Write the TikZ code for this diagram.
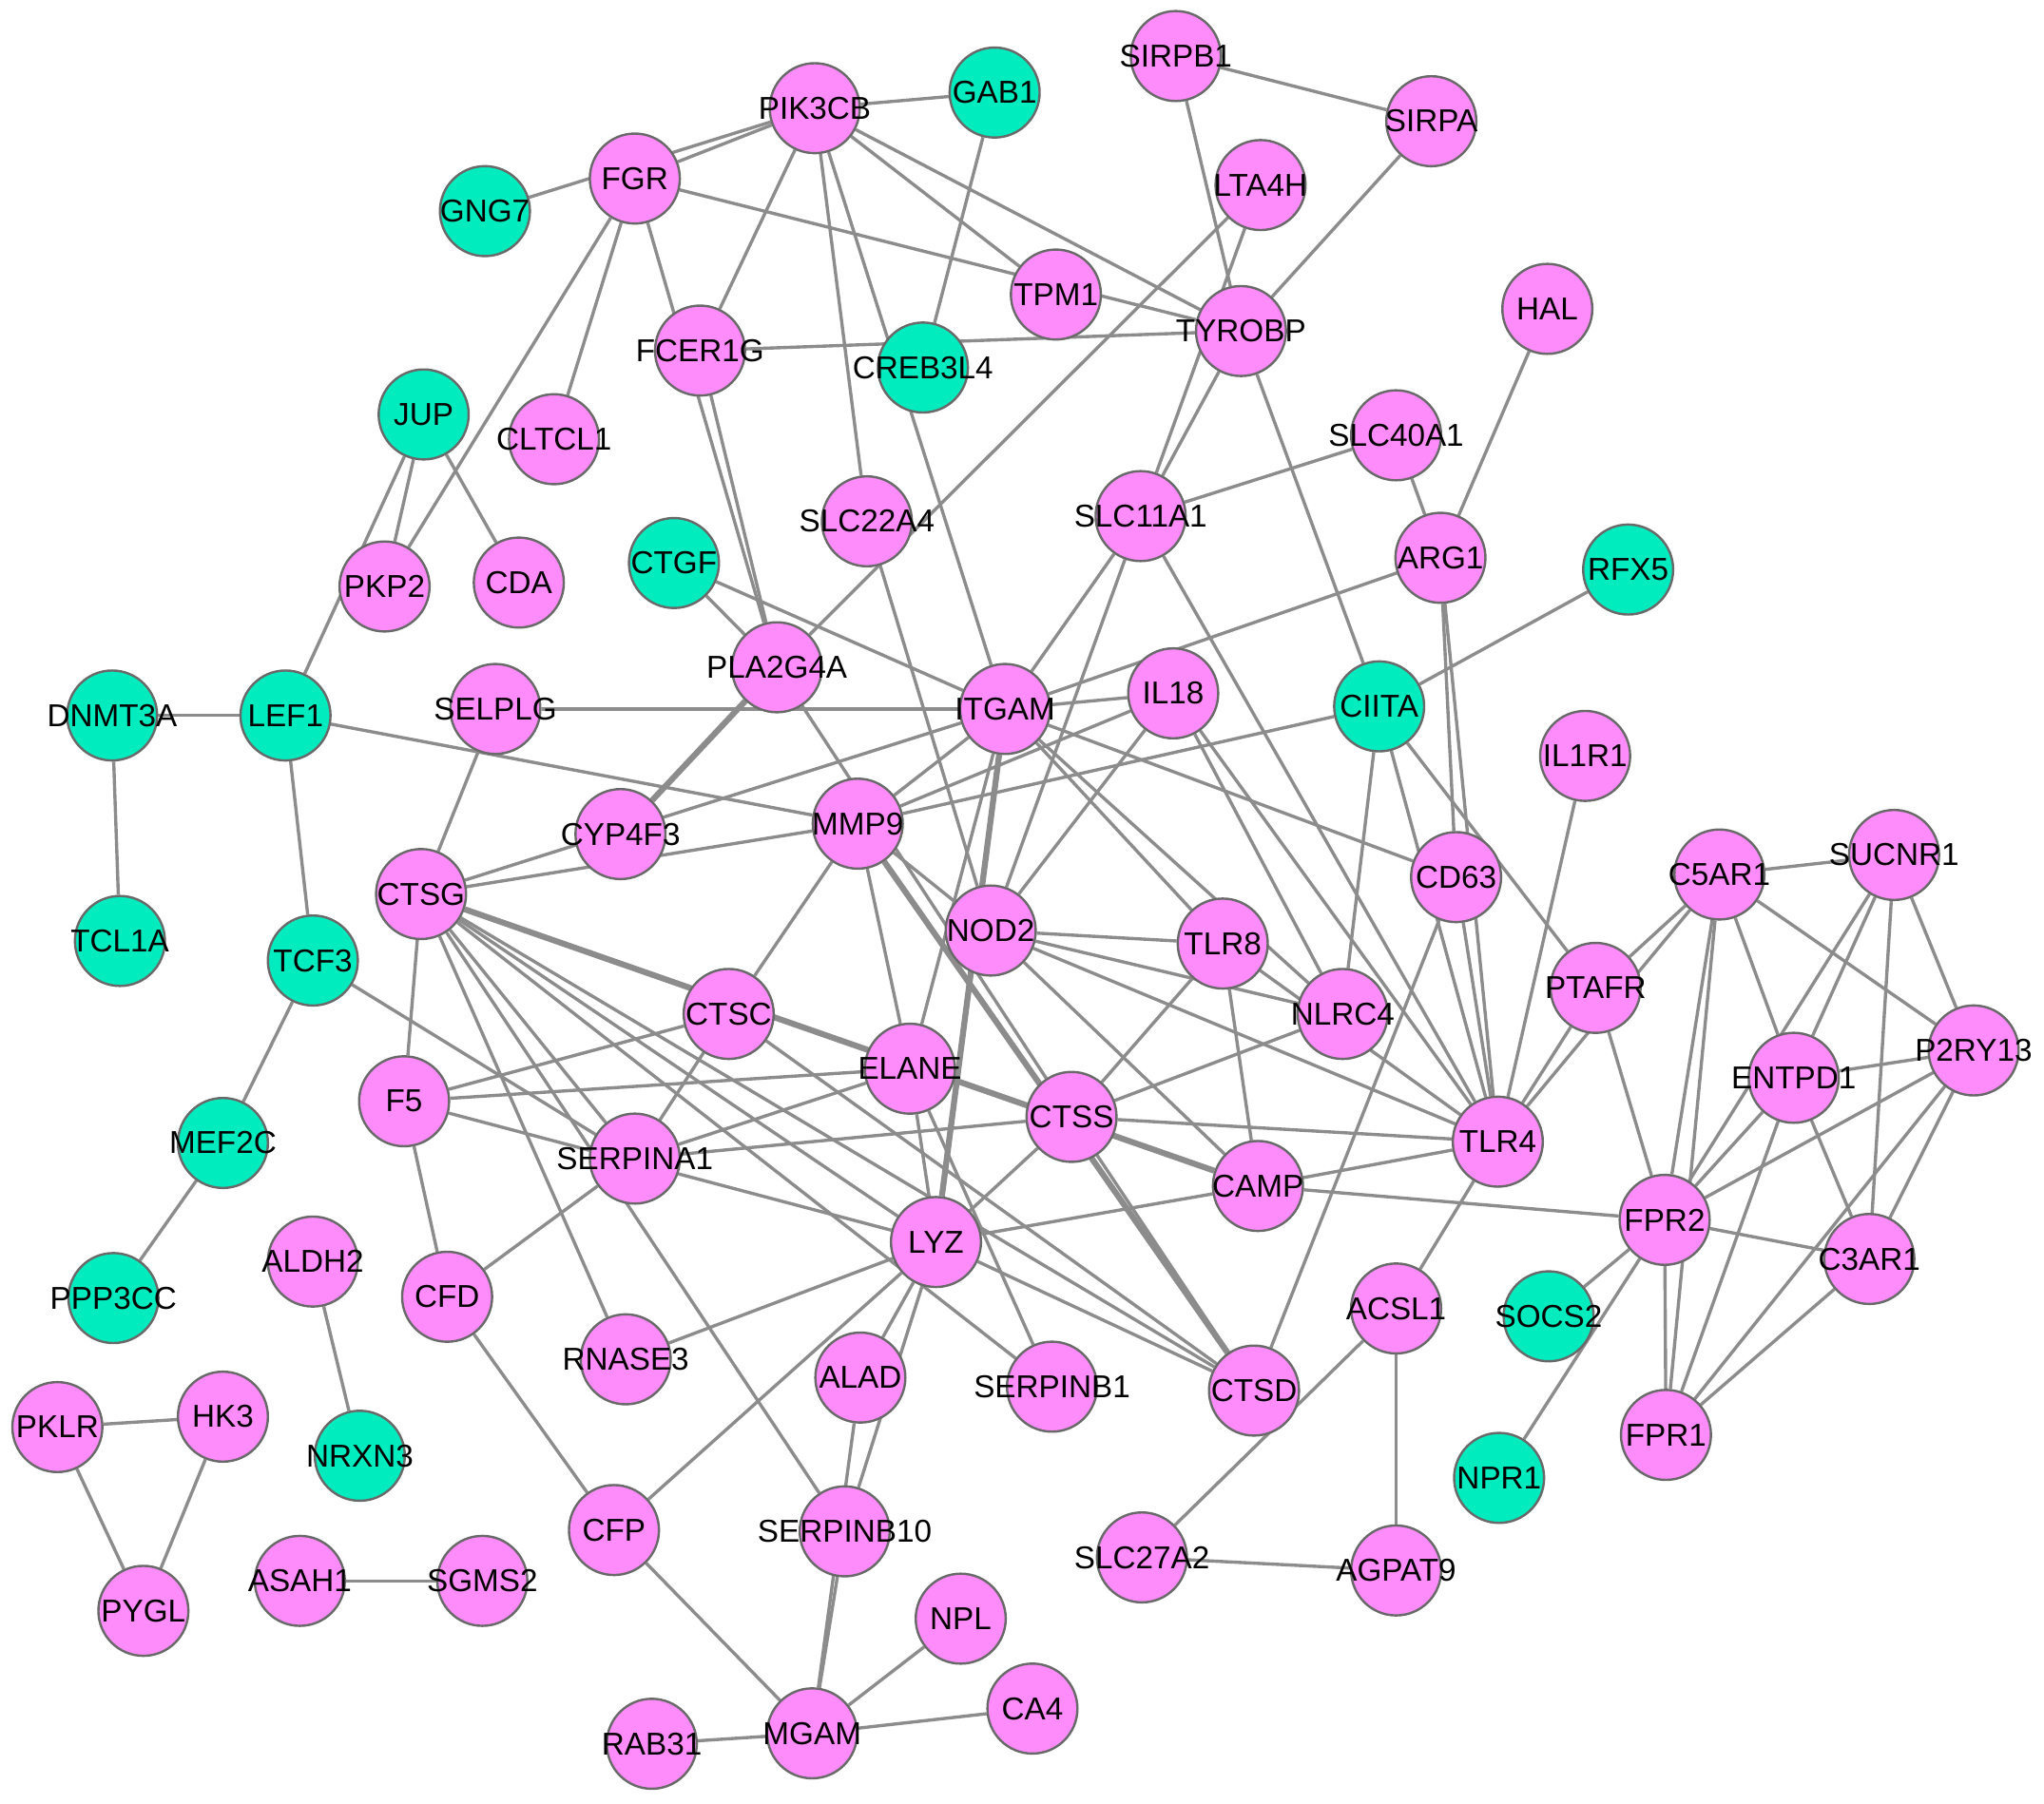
\documentclass[tikz,border=0pt]{standalone}
\usepackage{fontspec}
\setmainfont{Liberation Sans}
\usetikzlibrary{backgrounds}
\definecolor{pk}{RGB}{255,140,250}
\definecolor{tl}{RGB}{0,236,190}
\definecolor{eg}{RGB}{140,140,140}
\definecolor{bd}{RGB}{105,105,105}
\newcommand{\nlab}[1]{\makebox[0pt][c]{#1}}
\begin{document}
\begin{tikzpicture}[x=0.01cm,y=-0.01cm,
  gn/.style={circle,draw=bd,line width=0.5pt,minimum size=0.69cm,inner sep=0pt,font=\fontsize{6.9}{8}\selectfont},
  pn/.style={gn,fill=pk},
  tn/.style={gn,fill=tl},
  edge/.style={draw=eg,line width=0.7pt},
  dbl/.style={draw=eg,line width=1.3pt}]
\useasboundingbox (0,0) rectangle (1568,1384);
% nodes
\node[pn] (PIK3CB) at (625,83) {\nlab{PIK3CB}};
\node[tn] (GAB1) at (763,71) {\nlab{GAB1}};
\node[pn] (SIRPB1) at (902,43) {\nlab{SIRPB1}};
\node[pn] (SIRPA) at (1098,93) {\nlab{SIRPA}};
\node[pn] (FGR) at (487,137) {\nlab{FGR}};
\node[tn] (GNG7) at (372,162) {\nlab{GNG7}};
\node[pn] (LTA4H) at (967,142) {\nlab{LTA4H}};
\node[pn] (TPM1) at (810,226) {\nlab{TPM1}};
\node[pn] (TYROBP) at (952,254) {\nlab{TYROBP}};
\node[pn] (HAL) at (1187,237) {\nlab{HAL}};
\node[pn] (FCER1G) at (537,269) {\nlab{FCER1G}};
\node[tn] (CREB3L4) at (708,282) {\nlab{CREB3L4}};
\node[tn] (JUP) at (325,318) {\nlab{JUP}};
\node[pn] (CLTCL1) at (425,337) {\nlab{CLTCL1}};
\node[pn] (SLC40A1) at (1071,334) {\nlab{SLC40A1}};
\node[pn] (SLC22A4) at (665,400) {\nlab{SLC22A4}};
\node[pn] (SLC11A1) at (875,396) {\nlab{SLC11A1}};
\node[pn] (ARG1) at (1105,428) {\nlab{ARG1}};
\node[pn] (PKP2) at (295,450) {\nlab{PKP2}};
\node[pn] (CDA) at (398,447) {\nlab{CDA}};
\node[tn] (CTGF) at (517,432) {\nlab{CTGF}};
\node[tn] (RFX5) at (1249,437) {\nlab{RFX5}};
\node[pn] (PLA2G4A) at (596,512) {\nlab{PLA2G4A}};
\node[pn] (SELPLG) at (380,544) {\nlab{SELPLG}};
\node[tn] (DNMT3A) at (86,549) {\nlab{DNMT3A}};
\node[tn] (LEF1) at (219,549) {\nlab{LEF1}};
\node[pn] (ITGAM) at (771,544) {\nlab{ITGAM}};
\node[pn] (IL18) at (900,532) {\nlab{IL18}};
\node[tn] (CIITA) at (1058,542) {\nlab{CIITA}};
\node[pn] (IL1R1) at (1216,580) {\nlab{IL1R1}};
\node[pn] (CYP4F3) at (476,640) {\nlab{CYP4F3}};
\node[pn] (MMP9) at (658,632) {\nlab{MMP9}};
\node[pn] (CTSG) at (323,686) {\nlab{CTSG}};
\node[pn] (CD63) at (1117,673) {\nlab{CD63}};
\node[pn] (C5AR1) at (1319,671) {\nlab{C5AR1}};
\node[pn] (SUCNR1) at (1453,656) {\nlab{SUCNR1}};
\node[pn] (NOD2) at (760,714) {\nlab{NOD2}};
\node[pn] (TLR8) at (938,724) {\nlab{TLR8}};
\node[tn] (TCL1A) at (92,722) {\nlab{TCL1A}};
\node[tn] (TCF3) at (240,737) {\nlab{TCF3}};
\node[pn] (PTAFR) at (1224,758) {\nlab{PTAFR}};
\node[pn] (NLRC4) at (1030,778) {\nlab{NLRC4}};
\node[pn] (CTSC) at (559,778) {\nlab{CTSC}};
\node[pn] (P2RY13) at (1514,806) {\nlab{P2RY13}};
\node[pn] (ENTPD1) at (1376,827) {\nlab{ENTPD1}};
\node[pn] (ELANE) at (698,820) {\nlab{ELANE}};
\node[pn] (F5) at (310,845) {\nlab{F5}};
\node[pn] (CTSS) at (822,857) {\nlab{CTSS}};
\node[pn] (TLR4) at (1149,876) {\nlab{TLR4}};
\node[tn] (MEF2C) at (171,877) {\nlab{MEF2C}};
\node[pn] (SERPINA1) at (487,889) {\nlab{SERPINA1}};
\node[pn] (CAMP) at (965,910) {\nlab{CAMP}};
\node[pn] (FPR2) at (1277,936) {\nlab{FPR2}};
\node[pn] (LYZ) at (718,953) {\nlab{LYZ}};
\node[pn] (C3AR1) at (1434,966) {\nlab{C3AR1}};
\node[pn] (ALDH2) at (240,968) {\nlab{ALDH2}};
\node[pn] (CFD) at (343,995) {\nlab{CFD}};
\node[tn] (PPP3CC) at (87,996) {\nlab{PPP3CC}};
\node[pn] (ACSL1) at (1071,1004) {\nlab{ACSL1}};
\node[tn] (SOCS2) at (1188,1010) {\nlab{SOCS2}};
\node[pn] (RNASE3) at (480,1043) {\nlab{RNASE3}};
\node[pn] (ALAD) at (660,1057) {\nlab{ALAD}};
\node[pn] (SERPINB1) at (807,1064) {\nlab{SERPINB1}};
\node[pn] (CTSD) at (962,1067) {\nlab{CTSD}};
\node[pn] (HK3) at (171,1087) {\nlab{HK3}};
\node[pn] (PKLR) at (44,1095) {\nlab{PKLR}};
\node[pn] (FPR1) at (1278,1101) {\nlab{FPR1}};
\node[tn] (NRXN3) at (276,1117) {\nlab{NRXN3}};
\node[tn] (NPR1) at (1150,1134) {\nlab{NPR1}};
\node[pn] (CFP) at (471,1174) {\nlab{CFP}};
\node[pn] (SERPINB10) at (648,1175) {\nlab{SERPINB10}};
\node[pn] (SLC27A2) at (876,1195) {\nlab{SLC27A2}};
\node[pn] (AGPAT9) at (1071,1205) {\nlab{AGPAT9}};
\node[pn] (ASAH1) at (230,1213) {\nlab{ASAH1}};
\node[pn] (SGMS2) at (370,1213) {\nlab{SGMS2}};
\node[pn] (PYGL) at (110,1236) {\nlab{PYGL}};
\node[pn] (NPL) at (737,1242) {\nlab{NPL}};
\node[pn] (CA4) at (792,1311) {\nlab{CA4}};
\node[pn] (MGAM) at (623,1330) {\nlab{MGAM}};
\node[pn] (RAB31) at (500,1338) {\nlab{RAB31}};
% edges
\begin{pgfonlayer}{background}
\fill[white] (0,0) rectangle (1568,1384);
\draw[edge] (PIK3CB) -- (GAB1);
\draw[edge] (GNG7) -- (PIK3CB);
\draw[edge] (FGR) -- (PIK3CB);
\draw[edge] (PIK3CB) -- (TPM1);
\draw[edge] (PIK3CB) -- (TYROBP);
\draw[edge] (PIK3CB) -- (FCER1G);
\draw[edge] (PIK3CB) -- (SLC22A4);
\draw[edge] (PIK3CB) -- (ITGAM);
\draw[edge] (FGR) -- (TYROBP);
\draw[edge] (FGR) -- (PLA2G4A);
\draw[edge] (FGR) -- (CLTCL1);
\draw[edge] (FGR) -- (PKP2);
\draw[edge] (GAB1) -- (CREB3L4);
\draw[edge] (SIRPB1) -- (SIRPA);
\draw[edge] (SIRPB1) -- (TYROBP);
\draw[edge] (SIRPA) -- (TYROBP);
\draw[edge] (FCER1G) -- (TYROBP);
\draw[edge] (LTA4H) -- (SLC11A1);
\draw[edge] (PLA2G4A) -- (LTA4H);
\draw[edge] (TYROBP) -- (SLC11A1);
\draw[edge] (TYROBP) -- (CIITA);
\draw[edge] (HAL) -- (ARG1);
\draw[edge] (SLC40A1) -- (SLC11A1);
\draw[edge] (SLC40A1) -- (ARG1);
\draw[edge] (FCER1G) -- (PLA2G4A);
\draw[edge] (JUP) -- (PKP2);
\draw[edge] (JUP) -- (LEF1);
\draw[edge] (JUP) -- (CDA);
\draw[edge] (DNMT3A) -- (LEF1);
\draw[edge] (DNMT3A) -- (TCL1A);
\draw[edge] (LEF1) -- (TCF3);
\draw[edge] (LEF1) -- (MMP9);
\draw[edge] (CTGF) -- (PLA2G4A);
\draw[edge] (CTGF) -- (ITGAM);
\draw[edge] (SLC22A4) -- (NOD2);
\draw[edge] (SELPLG) -- (ITGAM);
\draw[edge] (SELPLG) -- (CTSG);
\draw[dbl] (PLA2G4A) -- (CYP4F3);
\draw[edge] (PLA2G4A) -- (CTSS);
\draw[edge] (CTSG) -- (ITGAM);
\draw[edge] (CTSG) -- (MMP9);
\draw[edge] (RFX5) -- (CIITA);
\draw[edge] (SLC11A1) -- (ITGAM);
\draw[edge] (SLC11A1) -- (NOD2);
\draw[edge] (SLC11A1) -- (TLR4);
\draw[edge] (ARG1) -- (ITGAM);
\draw[edge] (ARG1) -- (CD63);
\draw[edge] (ARG1) -- (TLR4);
\draw[edge] (CD63) -- (TLR4);
\draw[edge] (CIITA) -- (TLR4);
\draw[edge] (CIITA) -- (NLRC4);
\draw[edge] (CIITA) -- (PTAFR);
\draw[edge] (CIITA) -- (MMP9);
\draw[edge] (IL18) -- (ITGAM);
\draw[edge] (IL18) -- (NOD2);
\draw[edge] (IL18) -- (NLRC4);
\draw[edge] (IL18) -- (TLR4);
\draw[edge] (IL18) -- (MMP9);
\draw[edge] (MMP9) -- (ITGAM);
\draw[edge] (MMP9) -- (NOD2);
\draw[dbl] (MMP9) -- (CTSD);
\draw[edge] (CTSS) -- (CTSD);
\draw[edge] (MMP9) -- (ELANE);
\draw[edge] (MMP9) -- (CTSC);
\draw[dbl] (ITGAM) -- (LYZ);
\draw[edge] (LYZ) -- (SERPINB10);
\draw[edge] (ITGAM) -- (ELANE);
\draw[edge] (ITGAM) -- (TLR8);
\draw[edge] (ITGAM) -- (CD63);
\draw[edge] (ITGAM) -- (NLRC4);
\draw[edge] (TLR8) -- (TLR4);
\draw[edge] (NOD2) -- (TLR8);
\draw[edge] (NOD2) -- (NLRC4);
\draw[edge] (NOD2) -- (TLR4);
\draw[edge] (NOD2) -- (CAMP);
\draw[edge] (TLR8) -- (CTSS);
\draw[edge] (TLR8) -- (CAMP);
\draw[edge] (NLRC4) -- (CTSS);
\draw[edge] (CTSS) -- (TLR4);
\draw[edge] (CTSS) -- (LYZ);
\draw[edge] (CTSS) -- (SERPINA1);
\draw[edge] (CAMP) -- (TLR4);
\draw[edge] (CAMP) -- (FPR2);
\draw[edge] (CAMP) -- (LYZ);
\draw[dbl] (CTSG) -- (CAMP);
\draw[edge] (CTSG) -- (LYZ);
\draw[edge] (CTSG) -- (CTSD);
\draw[edge] (CTSG) -- (SERPINB1);
\draw[edge] (CTSG) -- (SERPINA1);
\draw[edge] (CTSG) -- (RNASE3);
\draw[edge] (CTSG) -- (SERPINB10);
\draw[edge] (CTSG) -- (F5);
\draw[edge] (CTSC) -- (F5);
\draw[edge] (CTSC) -- (SERPINA1);
\draw[edge] (CTSC) -- (CTSD);
\draw[edge] (F5) -- (ELANE);
\draw[edge] (F5) -- (LYZ);
\draw[edge] (F5) -- (CFD);
\draw[edge] (TCF3) -- (SERPINA1);
\draw[edge] (TCF3) -- (MEF2C);
\draw[edge] (MEF2C) -- (PPP3CC);
\draw[edge] (SERPINA1) -- (ELANE);
\draw[edge] (SERPINA1) -- (CFD);
\draw[edge] (CFD) -- (CFP);
\draw[edge] (RNASE3) -- (LYZ);
\draw[edge] (CFP) -- (LYZ);
\draw[edge] (CFP) -- (MGAM);
\draw[edge] (LYZ) -- (ALAD);
\draw[edge] (ALAD) -- (MGAM);
\draw[edge] (SERPINB10) -- (MGAM);
\draw[edge] (LYZ) -- (CTSD);
\draw[edge] (ELANE) -- (SERPINB1);
\draw[edge] (ELANE) -- (LYZ);
\draw[edge] (MGAM) -- (RAB31);
\draw[edge] (MGAM) -- (CA4);
\draw[edge] (MGAM) -- (NPL);
\draw[edge] (CD63) -- (CTSD);
\draw[edge] (TLR4) -- (ACSL1);
\draw[edge] (ACSL1) -- (SLC27A2);
\draw[edge] (ACSL1) -- (AGPAT9);
\draw[edge] (SLC27A2) -- (AGPAT9);
\draw[edge] (IL1R1) -- (TLR4);
\draw[edge] (PTAFR) -- (TLR4);
\draw[edge] (C5AR1) -- (TLR4);
\draw[edge] (C5AR1) -- (PTAFR);
\draw[edge] (PTAFR) -- (FPR2);
\draw[edge] (C5AR1) -- (SUCNR1);
\draw[edge] (C5AR1) -- (FPR2);
\draw[edge] (C5AR1) -- (FPR1);
\draw[edge] (C5AR1) -- (ENTPD1);
\draw[edge] (C5AR1) -- (P2RY13);
\draw[edge] (SUCNR1) -- (ENTPD1);
\draw[edge] (SUCNR1) -- (FPR2);
\draw[edge] (SUCNR1) -- (C3AR1);
\draw[edge] (SUCNR1) -- (P2RY13);
\draw[edge] (P2RY13) -- (ENTPD1);
\draw[edge] (P2RY13) -- (FPR2);
\draw[edge] (P2RY13) -- (C3AR1);
\draw[edge] (P2RY13) -- (FPR1);
\draw[edge] (ENTPD1) -- (FPR2);
\draw[edge] (ENTPD1) -- (FPR1);
\draw[edge] (ENTPD1) -- (C3AR1);
\draw[edge] (FPR2) -- (C3AR1);
\draw[edge] (FPR2) -- (FPR1);
\draw[edge] (C3AR1) -- (FPR1);
\draw[edge] (FPR2) -- (SOCS2);
\draw[edge] (FPR2) -- (NPR1);
\draw[edge] (ALDH2) -- (NRXN3);
\draw[edge] (PKLR) -- (HK3);
\draw[edge] (PKLR) -- (PYGL);
\draw[edge] (HK3) -- (PYGL);
\draw[edge] (ASAH1) -- (SGMS2);
\end{pgfonlayer}
\end{tikzpicture}
\end{document}
